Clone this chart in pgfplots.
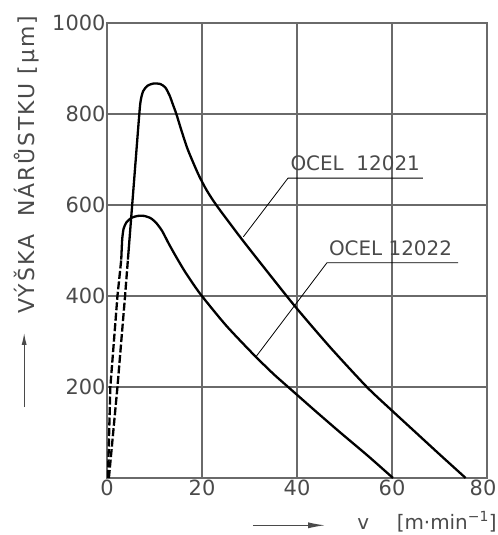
\documentclass[border=0pt]{standalone}
\usepackage{fontspec}
\setmainfont{DejaVu Sans}
\usepackage{pgfplots}
\pgfplotsset{compat=1.18}
\usetikzlibrary{arrows.meta}
\definecolor{gridgray}{HTML}{6A6A6A}
\definecolor{txtgray}{HTML}{4A4A4A}
\newcommand{\lblfont}{\fontsize{20}{22}\selectfont}
\newcommand{\tickfont}{\fontsize{21}{22}\selectfont}

\begin{document}
\begin{tikzpicture}
\begin{axis}[
    scale only axis,
    width=380bp, height=455bp,
    xmin=0, xmax=80, ymin=0, ymax=1000,
    xtick={0,20,...,60},
    extra x ticks={80},
    extra x tick style={grid=major, xticklabel style={xshift=-4bp}},
    ytick={200,400,...,1000},
    extra y ticks={0}, extra y tick labels={},
    grid=major,
    major grid style={gridgray, line width=1.3bp},
    axis line style={gridgray, line width=1.3bp},
    tick style={draw=none},
    ticklabel style={font=\tickfont, text=txtgray},
    /pgf/number format/assume math mode=true,
    /pgf/number format/1000 sep={},
    yticklabel style={xshift=2bp},
    xticklabel style={yshift=2bp},
    clip=false,
]
% OCEL 12021 - dashed start
\addplot[black, line width=2.3bp, dash pattern=on 8bp off 2.5bp] coordinates {
    (0.4,0) (2.2,200) (3.8,400) (4.4,480)
};
% OCEL 12021
\addplot[black, line width=2.3bp, smooth, tension=0.4] coordinates {
    (4.4,480) (5.6,640) (6.8,800) (7.1,830) (7.6,850) (8.5,862) (9.8,867)
    (11.2,866) (12.3,858) (13.2,840) (13.9,820) (14.6,800) (15.6,766)
    (17,722) (19.2,668) (21,632) (23.2,597) (28,530) (32.8,466)
    (39.6,377) (47,287) (54.7,200) (60,148) (65,100) (70,52) (75.5,0)
};
% OCEL 12022 - dashed start
\addplot[black, line width=2.3bp, dash pattern=on 8bp off 2.5bp] coordinates {
    (0.2,0) (0.7,200) (2.2,400) (3.0,480)
};
% OCEL 12022
\addplot[black, line width=2.3bp, smooth, tension=0.4] coordinates {
    (3.0,480) (3.2,525) (3.5,548) (4.1,562) (5.2,572) (6.5,576) (7.8,576)
    (9.2,571) (10.4,560) (11.6,543) (13,515) (14.5,487) (16.5,452)
    (19.6,405) (25,336) (30.7,273) (35,229) (39,192) (44,146) (49.1,100)
    (55,48) (60.2,0)
};

% labels of the curves
\node[anchor=base west, font=\lblfont, text=txtgray, inner sep=0pt]
    at (axis cs:38.6,675) {OCEL\ \ 12021};
\draw[black, line width=0.8bp] (axis cs:66.5,659) -- (axis cs:38.1,659)
    -- (axis cs:28.7,530);
\node[anchor=base west, font=\lblfont, text=txtgray, inner sep=0pt]
    at (axis cs:46.7,489) {OCEL\ 12022};
\draw[black, line width=0.8bp] (axis cs:73.9,473) -- (axis cs:46.3,473)
    -- (axis cs:31.4,267);

% axis titles
\node[rotate=90, anchor=base west, font=\fontsize{22}{24}\selectfont\addfontfeature{LetterSpace=9},
      text=txtgray, inner sep=0pt]
    at (axis description cs:-0.19,0.36) {VÝŠKA\ \ NÁRŮSTKU [µm]};
\draw[txtgray, line width=1.1bp, -{Latex[length=12bp,width=5bp]}]
    (axis description cs:-0.218,0.156) -- (axis description cs:-0.218,0.319);
\node[anchor=base west, font=\lblfont, text=txtgray, inner sep=0pt]
    at (axis description cs:0.658,-0.113) {v};
\node[anchor=base west, font=\lblfont, text=txtgray, inner sep=0pt]
    at (axis description cs:0.762,-0.113) {[m·min\textsuperscript{−1}]};
\draw[txtgray, line width=1.1bp, -{Latex[length=17bp,width=6bp]}]
    (axis description cs:0.384,-0.104) -- (axis description cs:0.574,-0.104);

\coordinate (bl) at (axis description cs:-0.2816,-0.1253);
\coordinate (tr) at (axis description cs:1.0289,1.0505);
\end{axis}
\pgfresetboundingbox
\path[use as bounding box] (bl) rectangle (tr);
\end{tikzpicture}
\end{document}
